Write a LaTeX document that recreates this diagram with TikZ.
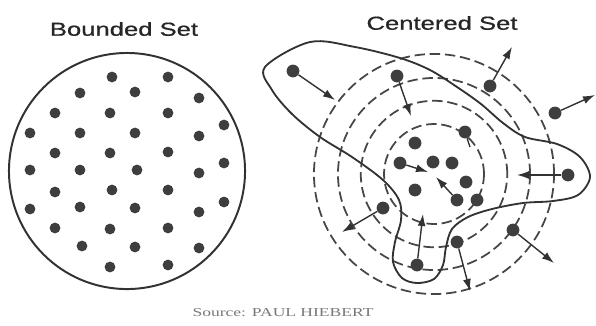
\documentclass[tikz,border=0pt]{standalone}
\usepackage{fontspec}
\setmainfont{Liberation Serif}
\newfontfamily\titlefont[FakeStretch=1.36, FakeBold=0.8]{Liberation Sans}
\newfontfamily\srcfont[FakeStretch=1.45]{Liberation Serif}
\usetikzlibrary{arrows.meta}
\definecolor{dotgray}{RGB}{62, 62, 62}
\definecolor{linegray}{RGB}{50, 50, 50}
\definecolor{ringgray}{RGB}{70, 70, 70}
\definecolor{srcgray}{RGB}{120, 120, 120}

\begin{document}
\begin{tikzpicture}[
  x=0.025cm, y=-0.025cm,
  dot/.style={circle, fill=dotgray, inner sep=0pt, minimum size=0.27cm},
  bigdot/.style={circle, fill=dotgray, inner sep=0pt, minimum size=0.32cm},
  title/.style={font=\titlefont\fontsize{13.4}{15}\selectfont, text=black!85,
                inner sep=0pt},
  ring/.style={ringgray, line width=1.25pt, dash pattern=on 0.26cm off 0.12cm},
  blob/.style={linegray, line width=1.3pt},
  arr/.style={linegray, line width=1pt, -{Latex[length=0.3cm, width=0.2cm]}},
  >=Latex
]
  \useasboundingbox (0,0) rectangle (596,325);

  % ── bounded set ──
  \node[title] (btitle) at (124,29) {Bounded Set};
  \node[draw=linegray, line width=1.4pt, circle, minimum size=5.9cm, inner sep=0pt]
    (bset) at (127,171) {};
  \foreach \px/\py [count=\i] in {
      112/77, 168/77,
      80/93, 135/92, 199/98,
      55/113, 110/113, 168/113, 224/125,
      30/133, 80/133, 135/133, 199/136,
      55/153, 110/153, 168/152, 224/163,
      30/170, 80/170, 137/170, 199/173,
      55/192, 112/190, 168/190, 224/202,
      30/209, 80/207, 135/208, 199/212,
      55/228, 110/229, 168/228,
      82/246, 135/247, 199/248,
      110/267, 168/265}
    \node[dot] (b\i) at (\px,\py) {};

  % ── centered set ──
  \node[title] (ctitle) at (442,23) {Centered Set};
  \coordinate (ctr) at (434,174);
  \foreach \r in {1.25, 1.83, 2.4, 3.0}
    \draw[ring] (ctr) circle[radius=\r cm];

  \draw[blob] plot[smooth cycle, tension=0.55] coordinates {
    (310,42) (265,67) (272,90) (292,114) (320,137) (352,157) (383,180)
    (399,200) (401,220) (395,242) (393,262) (402,278) (417,283) (434,279)
    (443,265) (446,247) (452,229) (468,217) (492,209) (523,203) (553,201)
    (578,195) (590,177) (580,157) (557,144) (525,137) (503,123) (481,104)
    (457,87) (430,70) (400,58) (355,47)};

  \foreach \px/\py [count=\i] in {
      293/71, 397/76, 490/86, 555/113, 465/132, 415/143,
      400/163, 433/162, 452/163, 466/182, 415/190, 457/200,
      477/200, 568/175, 383/208, 513/230, 457/242, 417/265}
    \node[bigdot] (c\i) at (\px,\py) {};

  % arrow ends
  \coordinate (t1) at (335,100);
  \coordinate (t2) at (411,116);
  \coordinate (t3) at (512,47);
  \coordinate (t4) at (595,95);
  \coordinate (t5) at (470,147);
  \coordinate (t7) at (428,172);
  \coordinate (t12) at (436,177);
  \coordinate (t14) at (517,175);
  \coordinate (t15) at (342,232);
  \coordinate (t16) at (554,263);
  \coordinate (t17) at (470,291);
  \coordinate (t18) at (423,214);

  \foreach \i in {1,2,3,4,7,12,14,15,16,17,18}
    \draw[arr] (c\i) -- (t\i);
  \draw[linegray, line width=1pt] (c5) -- (t5);

  % ── source ──
  \node[font=\srcfont\fontsize{8.6}{10}\selectfont, text=srcgray, inner sep=0pt]
    (src) at (283,313) {Source: PAUL HIEBERT};
\end{tikzpicture}
\end{document}
